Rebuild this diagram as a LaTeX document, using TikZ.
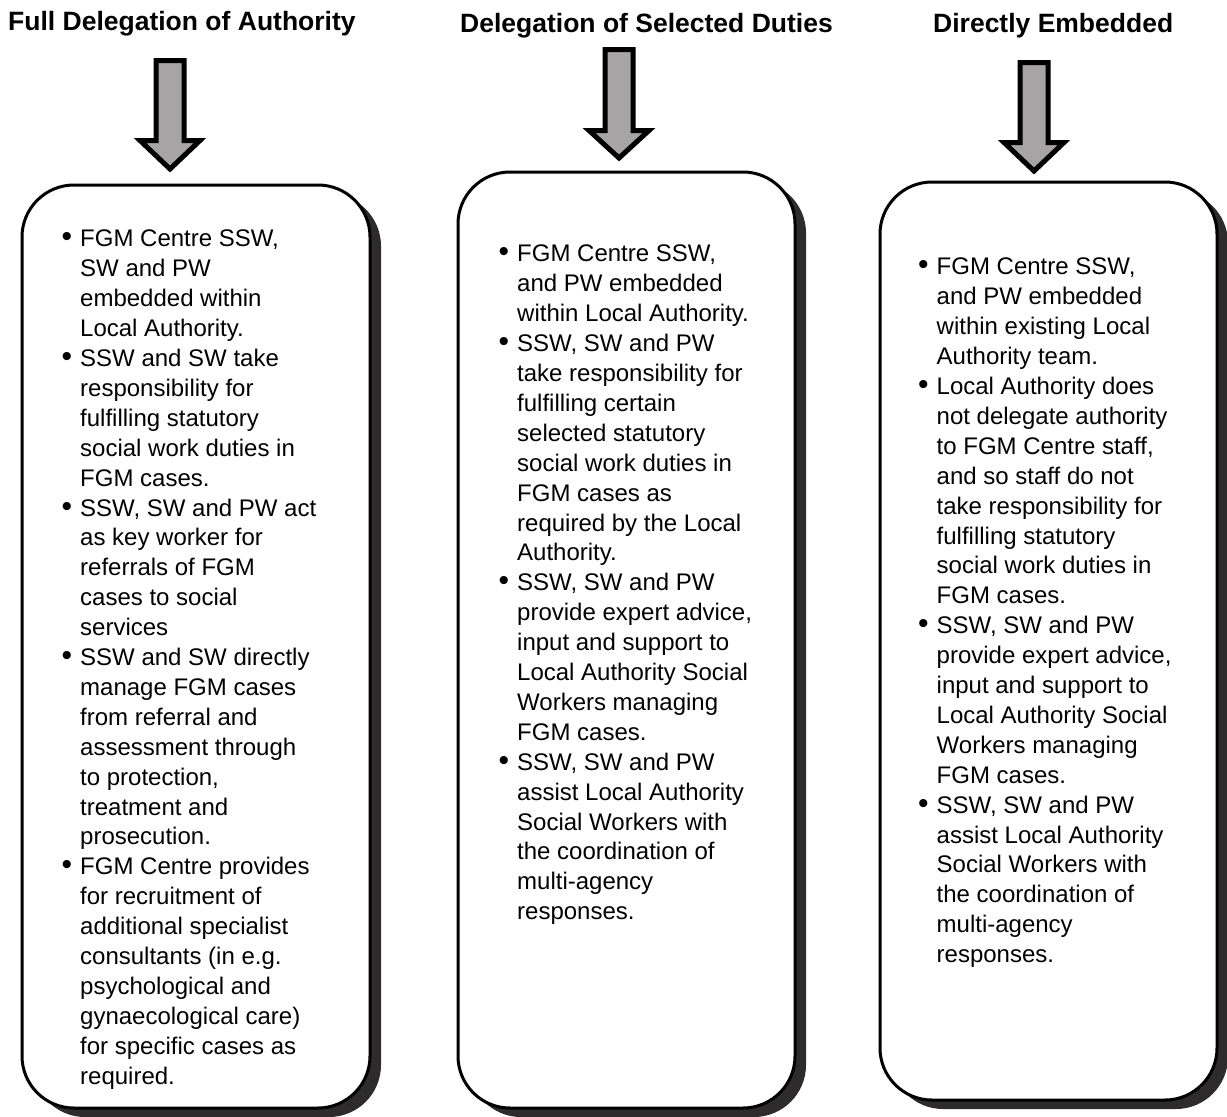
\documentclass[tikz,border=0pt]{standalone}
\usepackage{fontspec}
\setmainfont{Liberation Sans}
\usetikzlibrary{shadows}
\definecolor{arrowgray}{RGB}{166,164,164}
\definecolor{shadowgray}{RGB}{45,43,43}
\newcommand{\itemdot}{\makebox[18.5pt][l]{\scalebox{1.25}{\textbullet}}}
\newcommand{\itempad}{\hspace*{18.5pt}}

\begin{document}
\begin{tikzpicture}[x=1pt,y=-1pt,
  title/.style={anchor=base west,inner sep=0pt,font=\fontsize{26.5}{30}\selectfont\bfseries},
  panel/.style={draw=black,line width=3pt,fill=white,rounded corners=52pt,
    drop shadow={shadow xshift=11pt,shadow yshift=-9pt,fill=shadowgray,opacity=1}},
  bullets/.style={anchor=north west,inner sep=0pt,align=left,font=\fontsize{24}{29.9}\selectfont},
  blockarrow/.style={draw=black,line width=5pt,fill=arrowgray,miter limit=10}]
\useasboundingbox (0,0) rectangle (1227,1117);
%headings
\node[title] (full) at (8,30) {Full Delegation of Authority};
\node[title] (selected) at (460,32) {Delegation of Selected Duties};
\node[title] (embedded) at (933,32) {Directly Embedded};
%down arrows
\foreach \cx/\ytop/\yhead/\ytip in {170/60.5/140.5/169, 619/49.5/130.5/158, 1034/62.5/142.5/171}
{
  \draw[blockarrow] (\cx-14,\ytop) -- (\cx+14,\ytop) -- (\cx+14,\yhead) -- (\cx+30,\yhead)
    -- (\cx,\ytip) -- (\cx-30,\yhead) -- (\cx-14,\yhead) -- cycle;
}
%panels
\node[panel,minimum width=348pt,minimum height=923pt] (box1) at (196,646.5) {};
\node[panel,minimum width=337pt,minimum height=936pt] (box2) at (626.5,640) {};
\node[panel,minimum width=337pt,minimum height=918pt] (box3) at (1048.5,641) {};
%full delegation
\node[bullets] (list1) at (61.5,230) {%
\itemdot FGM Centre SSW,\\ \itempad SW and PW\\ \itempad embedded within\\ \itempad Local Authority.\\
\itemdot SSW and SW take\\ \itempad responsibility for\\ \itempad fulfilling statutory\\ \itempad social work duties in\\ \itempad FGM cases.\\
\itemdot SSW, SW and PW act\\ \itempad as key worker for\\ \itempad referrals of FGM\\ \itempad cases to social\\ \itempad services\\
\itemdot SSW and SW directly\\ \itempad manage FGM cases\\ \itempad from referral and\\ \itempad assessment through\\ \itempad to protection,\\ \itempad treatment and\\ \itempad prosecution.\\
\itemdot FGM Centre provides\\ \itempad for recruitment of\\ \itempad additional specialist\\ \itempad consultants (in e.g.\\ \itempad psychological and\\ \itempad gynaecological care)\\ \itempad for specific cases as\\ \itempad required.};
%selected duties
\node[bullets] (list2) at (498.5,245) {%
\itemdot FGM Centre SSW,\\ \itempad and PW embedded\\ \itempad within Local Authority.\\
\itemdot SSW, SW and PW\\ \itempad take responsibility for\\ \itempad fulfilling certain\\ \itempad selected statutory\\ \itempad social work duties in\\ \itempad FGM cases as\\ \itempad required by the Local\\ \itempad Authority.\\
\itemdot SSW, SW and PW\\ \itempad provide expert advice,\\ \itempad input and support to\\ \itempad Local Authority Social\\ \itempad Workers managing\\ \itempad FGM cases.\\
\itemdot SSW, SW and PW\\ \itempad assist Local Authority\\ \itempad Social Workers with\\ \itempad the coordination of\\ \itempad multi-agency\\ \itempad responses.};
%directly embedded
\node[bullets] (list3) at (918,258) {%
\itemdot FGM Centre SSW,\\ \itempad and PW embedded\\ \itempad within existing Local\\ \itempad Authority team.\\
\itemdot Local Authority does\\ \itempad not delegate authority\\ \itempad to FGM Centre staff,\\ \itempad and so staff do not\\ \itempad take responsibility for\\ \itempad fulfilling statutory\\ \itempad social work duties in\\ \itempad FGM cases.\\
\itemdot SSW, SW and PW\\ \itempad provide expert advice,\\ \itempad input and support to\\ \itempad Local Authority Social\\ \itempad Workers managing\\ \itempad FGM cases.\\
\itemdot SSW, SW and PW\\ \itempad assist Local Authority\\ \itempad Social Workers with\\ \itempad the coordination of\\ \itempad multi-agency\\ \itempad responses.};
\end{tikzpicture}
\end{document}
